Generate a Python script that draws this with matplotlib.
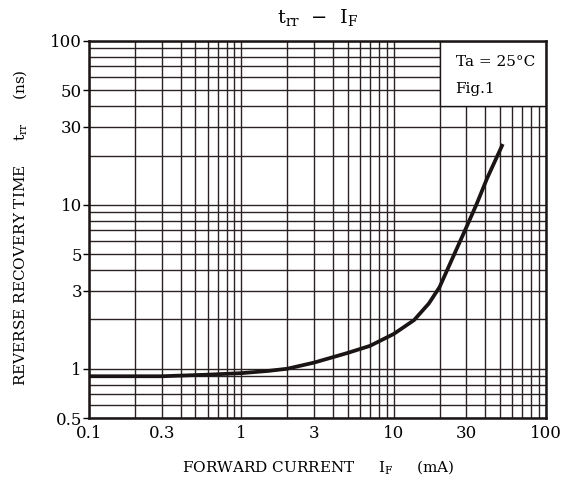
import matplotlib.pyplot as plt
from matplotlib.patches import Rectangle
from matplotlib.ticker import LogLocator, NullFormatter

plt.rcParams['font.family'] = 'DejaVu Serif'
plt.rcParams['mathtext.fontset'] = 'dejavuserif'

# forward current (mA) vs reverse recovery time (ns)
forward_current = [0.1, 0.3, 0.6, 1, 1.5, 2, 3, 5, 7, 10, 13.6, 17, 20, 24, 30, 35, 41, 52]
recovery_time = [0.90, 0.90, 0.92, 0.94, 0.97, 1.0, 1.09, 1.25, 1.38, 1.63, 1.98, 2.5,
                 3.15, 4.6, 7.3, 10.1, 14.5, 23.5]

x_ticks = [0.1, 0.3, 1, 3, 10, 30, 100]
x_labels = ['0.1', '0.3', '1', '3', '10', '30', '100']
y_ticks = [0.5, 1, 3, 5, 10, 30, 50, 100]
y_labels = ['0.5', '1', '3', '5', '10', '30', '50', '100']

fig = plt.figure(figsize=(5.76, 4.8), dpi=100)
ax = fig.add_axes([0.1545, 0.129, 0.7935, 0.7856])

ax.set_xscale('log')
ax.set_yscale('log')
ax.set_xlim(0.1, 100)
ax.set_ylim(0.5, 100)

# full log grid, majors and minors drawn the same
ax.xaxis.set_minor_locator(LogLocator(base=10, subs=range(2, 10)))
ax.yaxis.set_minor_locator(LogLocator(base=10, subs=range(2, 10)))
ax.xaxis.set_minor_formatter(NullFormatter())
ax.yaxis.set_minor_formatter(NullFormatter())
ax.grid(True, which='both', color='#2a2222', linewidth=1.0)
ax.set_axisbelow(True)

ax.set_xticks(x_ticks)
ax.set_xticklabels(x_labels)
ax.set_yticks(y_ticks)
ax.set_yticklabels(y_labels)
ax.tick_params(axis='x', which='both', length=0, labelsize=12, pad=5)
ax.tick_params(axis='y', which='major', length=4, width=1, labelsize=12, pad=1)
ax.tick_params(axis='y', which='minor', length=0)

for sp in ax.spines.values():
    sp.set_linewidth(1.8)
    sp.set_color('#1a1414')

ax.plot(forward_current, recovery_time, color='#1a1414', linewidth=2.7,
        solid_capstyle='butt', zorder=3)

# condition box in the upper right corner
ax.add_patch(Rectangle((20, 40), 80, 60, facecolor='white', edgecolor='#1a1414',
                       linewidth=1.0, zorder=2))
ax.text(25.5, 74, 'Ta = 25°C', fontsize=11, va='center', ha='left', zorder=4)
ax.text(25.5, 51, 'Fig.1', fontsize=11, va='center', ha='left', zorder=4)

ax.set_title(r'$\mathregular{t_{rr}}$  −  $\mathregular{I_F}$', fontsize=14, pad=13)
fig.text(0.552, 0.027, r'FORWARD CURRENT     $\mathregular{I_F}$     (mA)', fontsize=11,
         ha='center', va='center')
fig.text(0.035, 0.525, r'REVERSE RECOVERY TIME     $\mathregular{t_{rr}}$     (ns)',
         fontsize=11, ha='center', va='center', rotation=90)

fig.savefig('out.png', dpi=100)
